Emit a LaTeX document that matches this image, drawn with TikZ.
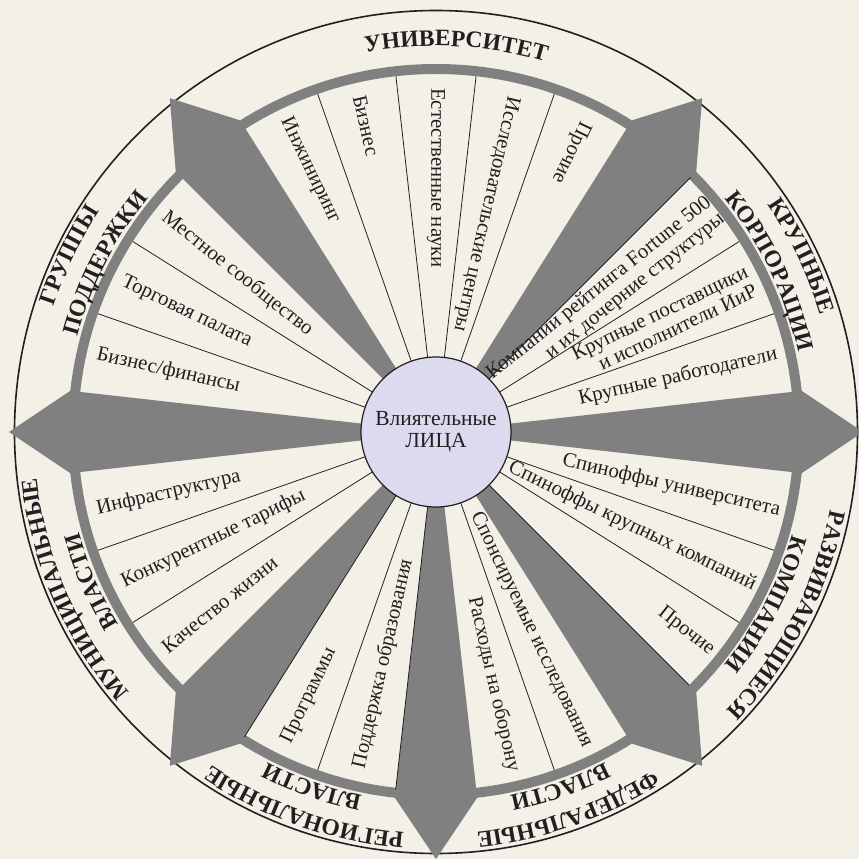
\documentclass[tikz,border=0pt]{standalone}
\usepackage{fontspec}
\setmainfont{Liberation Serif}
\usetikzlibrary{decorations.text}
\definecolor{paper}{HTML}{F3F1E7}
\definecolor{arrowgray}{HTML}{808080}
\definecolor{hubfill}{HTML}{DCDAEE}
\definecolor{ink}{HTML}{231F20}
\newcommand{\itemfont}{\fontsize{20.8}{21}\selectfont}
\newcommand{\hubfont}{\fontsize{21.5}{22}\selectfont}
\newcommand{\catfont}{\fontsize{23.5}{24}\selectfont\bfseries}

\begin{document}
\begin{tikzpicture}[x=1pt, y=1pt,
  arr/.style={fill=arrowgray},
  sep/.style={draw=ink, line width=0.8pt},
  itm/.style={font=\itemfont, text=ink, inner sep=0pt},
  hub/.style={circle, draw=ink, line width=1.2pt, fill=hubfill, minimum size=150pt,
    inner sep=0pt, align=center, font=\hubfont, text=ink},
  cat/.style={decorate, decoration={text along path, text align=center,
    text color=ink, text={|\catfont|#1}}}
]
\fill[paper] (-436,-427) rectangle (423,432);
\useasboundingbox (-436,-427) rectangle (423,432);

\draw[ink, line width=1.6pt] (0,0) circle[radius=421.5pt];
\draw[arrowgray, line width=10pt] (0,0) circle[radius=363pt];

\fill[arr] (0,0) -- (-6.43:368) -- (0:427) -- (6.43:368) -- cycle;
\fill[arr] (0,0) -- (45:368) -- (51.43:427) -- (57.86:368) -- cycle;
\fill[arr] (0,0) -- (122.14:368) -- (128.57:427) -- (135:368) -- cycle;
\fill[arr] (0,0) -- (173.57:368) -- (180:427) -- (186.43:368) -- cycle;
\fill[arr] (0,0) -- (225:368) -- (231.43:427) -- (237.86:368) -- cycle;
\fill[arr] (0,0) -- (263.57:368) -- (270:427) -- (276.43:368) -- cycle;
\fill[arr] (0,0) -- (302.14:368) -- (308.57:427) -- (315:368) -- cycle;

\draw[sep] (19.29:75)--(19.29:358) (32.14:75)--(32.14:358) (45:75)--(45:360);
\draw[sep] (70.71:75)--(70.71:358) (83.57:75)--(83.57:358)
  (96.43:75)--(96.43:358) (109.29:75)--(109.29:358);
\draw[sep] (147.86:75)--(147.86:358) (160.71:75)--(160.71:358);
\draw[sep] (199.29:75)--(199.29:358) (212.14:75)--(212.14:358) (237.86:75)--(237.86:360);
\draw[sep] (250.71:75)--(250.71:358) (263.57:75)--(263.57:360) (289.29:75)--(289.29:358);
\draw[sep] (315:75)--(315:358) (327.86:75)--(327.86:358) (340.71:75)--(340.71:358);

\node[itm, rotate=12.86, anchor=east] (corp1) at (12.86:350) {Крупные работодатели};
\node[itm, rotate=25.71, anchor=east, align=right] (corp2) at (25.71:350) {Крупные поставщики\\и исполнители ИиР};
\node[itm, rotate=38.57, anchor=east, align=right] (corp3) at (38.57:358) {Компании рейтинга Fortune 500\\и их дочерние структуры};

\node[itm, rotate=-115.71, anchor=west] (uni1) at (64.29:344) {Прочие};
\node[itm, rotate=-102.86, anchor=west] (uni2) at (77.14:344) {Исследовательские центры};
\node[itm, rotate=-90, anchor=west] (uni3) at (90:344) {Естественные науки};
\node[itm, rotate=-77.14, anchor=west] (uni4) at (102.86:345) {Бизнес};
\node[itm, rotate=-64.29, anchor=west] (uni5) at (115.71:348) {Инжиниринг};

\node[itm, rotate=-38.57, anchor=west] (sup1) at (141.43:348) {Местное сообщество};
\node[itm, rotate=-25.71, anchor=west] (sup2) at (154.29:348) {Торговая палата};
\node[itm, rotate=-12.86, anchor=west] (sup3) at (167.14:348) {Бизнес/финансы};

\node[itm, rotate=12.86, anchor=west] (mun1) at (192.86:348) {Инфраструктура};
\node[itm, rotate=25.71, anchor=west] (mun2) at (205.71:348) {Конкурентные тарифы};
\node[itm, rotate=38.57, anchor=west] (mun3) at (218.57:348) {Качество жизни};

\node[itm, rotate=64.29, anchor=west] (reg1) at (244.29:345) {Программы};
\node[itm, rotate=77.14, anchor=west] (reg2) at (257.14:345) {Поддержка образования};

\node[itm, rotate=282.86, anchor=east] (fed1) at (282.86:348) {Расходы на оборону};
\node[itm, rotate=295.71, anchor=east] (fed2) at (295.71:349) {Спонсируемые исследования};

\node[itm, rotate=321.43, anchor=east] (dev1) at (321.43:353) {Прочие};
\node[itm, rotate=334.29, anchor=east] (dev2) at (334.29:354) {Спиноффы крупных компаний};
\node[itm, rotate=347.14, anchor=east] (dev3) at (347.14:353) {Спиноффы университета};

\node[hub] (hub) at (0,0) {Влиятельные\\ЛИЦА};

\path[cat=УНИВЕРСИТЕТ] (122:386) arc[start angle=122, end angle=52, radius=386pt];
\path[cat=КРУПНЫЕ] (60.71:402) arc[start angle=60.71, end angle=-9.29, radius=402pt];
\path[cat=КОРПОРАЦИИ] (60.71:371) arc[start angle=60.71, end angle=-9.29, radius=371pt];
\path[cat=РАЗВИВАЮЩИЕСЯ] (367.5:402) arc[start angle=367.5, end angle=297.5, radius=402pt];
\path[cat=КОМПАНИИ] (367.5:371) arc[start angle=367.5, end angle=297.5, radius=371pt];
\path[cat=ФЕДЕРАЛЬНЫЕ] (324.29:402) arc[start angle=324.29, end angle=254.29, radius=402pt];
\path[cat=ВЛАСТИ] (324.29:371) arc[start angle=324.29, end angle=254.29, radius=371pt];
\path[cat=РЕГИОНАЛЬНЫЕ] (285.71:402) arc[start angle=285.71, end angle=215.71, radius=402pt];
\path[cat=ВЛАСТИ] (285.71:371) arc[start angle=285.71, end angle=215.71, radius=371pt];
\path[cat=МУНИЦИПАЛЬНЫЕ] (238.5:402) arc[start angle=238.5, end angle=168.5, radius=402pt];
\path[cat=ВЛАСТИ] (238.5:371) arc[start angle=238.5, end angle=168.5, radius=371pt];
\path[cat=ГРУППЫ] (189.29:402) arc[start angle=189.29, end angle=119.29, radius=402pt];
\path[cat=ПОДДЕРЖКИ] (188:371) arc[start angle=188, end angle=118, radius=371pt];
\end{tikzpicture}
\end{document}
